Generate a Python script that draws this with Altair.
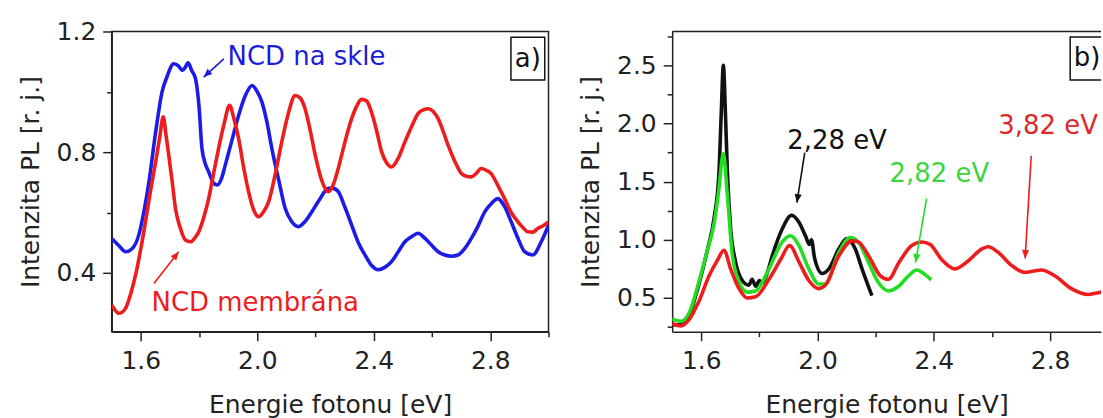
import altair as alt
import pandas as pd

FONT = "DejaVu Sans"
TXT = "#222222"

# ---------------- Panel a data ----------------
a_blue_x = [1.50, 1.525, 1.548, 1.57, 1.593, 1.61, 1.628, 1.65, 1.673, 1.69, 1.713, 1.73, 1.742, 1.752,
            1.762, 1.775, 1.788, 1.80, 1.81, 1.822, 1.833, 1.848, 1.862, 1.876, 1.89, 1.913, 1.936, 1.96,
            1.982, 2.0, 2.016, 2.033, 2.05, 2.073, 2.096, 2.118, 2.141, 2.164, 2.187, 2.215, 2.244, 2.26,
            2.278, 2.30, 2.324, 2.347, 2.37, 2.392, 2.415, 2.438, 2.461, 2.484, 2.507, 2.53, 2.552, 2.575,
            2.598, 2.621, 2.644, 2.667, 2.689, 2.712, 2.735, 2.758, 2.781, 2.804, 2.826, 2.849, 2.872,
            2.895, 2.918, 2.946, 2.975, 3.0]
a_blue_y = [0.514, 0.49, 0.470, 0.48, 0.525, 0.60, 0.702, 0.86, 1.0, 1.05, 1.093, 1.085, 1.071, 1.08,
            1.096, 1.07, 1.043, 0.95, 0.812, 0.76, 0.735, 0.70, 0.691, 0.71, 0.757, 0.84, 0.922, 0.99,
            1.021, 1.0, 0.966, 0.90, 0.812, 0.71, 0.613, 0.57, 0.553, 0.57, 0.602, 0.645, 0.680, 0.68,
            0.669, 0.62, 0.558, 0.50, 0.459, 0.425, 0.410, 0.418, 0.437, 0.47, 0.503, 0.52, 0.531, 0.515,
            0.492, 0.47, 0.459, 0.455, 0.459, 0.48, 0.514, 0.555, 0.602, 0.63, 0.646, 0.62, 0.569,
            0.515, 0.470, 0.459, 0.503, 0.558]

a_red_x = [1.50, 1.525, 1.548, 1.565, 1.582, 1.60, 1.616, 1.633, 1.651, 1.665, 1.677, 1.686, 1.696, 1.708,
           1.719, 1.735, 1.753, 1.771, 1.785, 1.799, 1.815, 1.833, 1.85, 1.867, 1.885, 1.905, 1.92, 1.936,
           1.953, 1.97, 1.987, 2.004, 2.02, 2.039, 2.06, 2.084, 2.107, 2.13, 2.147, 2.164, 2.18, 2.199,
           2.22, 2.244, 2.26, 2.278, 2.30, 2.324, 2.34, 2.358, 2.375, 2.392, 2.41, 2.427, 2.444, 2.461,
           2.484, 2.507, 2.53, 2.552, 2.57, 2.587, 2.604, 2.621, 2.638, 2.655, 2.678, 2.701, 2.718, 2.735,
           2.752, 2.769, 2.786, 2.803, 2.826, 2.849, 2.872, 2.895, 2.912, 2.929, 2.946, 2.963, 2.98, 3.0]
a_red_y = [0.294, 0.266, 0.283, 0.33, 0.393, 0.48, 0.569, 0.67, 0.768, 0.85, 0.917, 0.86, 0.790, 0.70,
           0.613, 0.55, 0.509, 0.503, 0.515, 0.536, 0.58, 0.646, 0.73, 0.812, 0.89, 0.955, 0.91, 0.845,
           0.75, 0.669, 0.61, 0.586, 0.60, 0.636, 0.72, 0.834, 0.93, 0.988, 0.98, 0.944, 0.88, 0.790,
           0.71, 0.669, 0.69, 0.746, 0.83, 0.911, 0.95, 0.975, 0.97, 0.933, 0.87, 0.801, 0.765, 0.751,
           0.78, 0.834, 0.885, 0.928, 0.94, 0.944, 0.935, 0.911, 0.87, 0.823, 0.77, 0.729, 0.72, 0.718,
           0.73, 0.746, 0.74, 0.729, 0.69, 0.646, 0.60, 0.569, 0.55, 0.536, 0.535, 0.547, 0.555, 0.569]

# ---------------- Panel b data ----------------
b_black_x = [1.50, 1.53, 1.56, 1.59, 1.62, 1.645, 1.661, 1.669, 1.676, 1.683, 1.690, 1.701, 1.718, 1.741,
             1.764, 1.775, 1.787, 1.80, 1.81, 1.825, 1.844, 1.878, 1.911, 1.936, 1.959, 1.972, 1.979,
             1.99, 2.016, 2.039, 2.073, 2.101, 2.13, 2.153, 2.187]
b_black_y = [0.27, 0.27, 0.36, 0.60, 0.90, 1.20, 1.58, 2.10, 2.50, 2.10, 1.58, 1.10, 0.81, 0.65,
             0.61, 0.66, 0.60, 0.65, 0.63, 0.70, 0.86, 1.09, 1.21, 1.15, 1.03, 0.96, 1.00,
             0.84, 0.71, 0.75, 0.92, 1.01, 0.92, 0.75, 0.52]

b_green_x = [1.50, 1.53, 1.56, 1.59, 1.62, 1.645, 1.66, 1.676, 1.69, 1.707, 1.73, 1.758, 1.787, 1.833,
             1.878, 1.907, 1.936, 1.97, 2.004, 2.027, 2.073, 2.113, 2.141, 2.176, 2.21, 2.244, 2.279,
             2.313, 2.341, 2.37, 2.391]
b_green_y = [0.32, 0.30, 0.38, 0.62, 0.90, 1.15, 1.42, 1.74, 1.38, 0.87, 0.64, 0.55, 0.56, 0.75,
             0.98, 1.035, 0.95, 0.75, 0.62, 0.62, 0.89, 1.02, 0.98, 0.80, 0.63, 0.56, 0.60,
             0.69, 0.74, 0.70, 0.655]

b_red_x = [1.50, 1.53, 1.56, 1.59, 1.627, 1.655, 1.678, 1.701, 1.73, 1.758, 1.787, 1.833, 1.873, 1.904,
           1.936, 1.97, 2.004, 2.027, 2.073, 2.119, 2.141, 2.176, 2.216, 2.244, 2.279, 2.324, 2.359,
           2.387, 2.427, 2.473, 2.519, 2.564, 2.587, 2.622, 2.667, 2.713, 2.74, 2.77, 2.816, 2.873,
           2.931, 2.976, 3.0]
b_red_y = [0.28, 0.26, 0.32, 0.46, 0.69, 0.82, 0.91, 0.75, 0.58, 0.50, 0.51, 0.66, 0.83, 0.95,
           0.81, 0.65, 0.58, 0.61, 0.86, 0.99, 0.98, 0.86, 0.69, 0.66, 0.80, 0.95, 0.98,
           0.96, 0.83, 0.75, 0.82, 0.92, 0.94, 0.89, 0.78, 0.72, 0.73, 0.74, 0.69, 0.58,
           0.53, 0.55, 0.56]

# ---------------- annotations ----------------
a_text = ["NCD na skle", "NCD membrána"]
a_text_x = [2.169, 1.993]
a_text_y = [1.115, 0.299]
a_text_color = ["#1c1cdc", "#ee1c1c"]
a_arrow_x = [1.885, 1.645]
a_arrow_y = [1.109, 0.365]
a_arrow_x2 = [1.816, 1.730]
a_arrow_y2 = [1.049, 0.470]
a_arrow_angle = [227, 38]

b_text = ["2,28 eV", "2,82 eV", "3,82 eV"]
b_text_x = [2.067, 2.419, 2.793]
b_text_y = [1.851, 1.565, 1.979]
b_text_color = ["#111111", "#3ed43e", "#dc2a2a"]
b_arrow_x = [1.956, 2.375, 2.735]
b_arrow_y = [1.748, 1.353, 1.722]
b_arrow_x2 = [1.929, 2.337, 2.714]
b_arrow_y2 = [1.319, 0.804, 0.839]
b_arrow_angle = [189, 190, 183]
b_arrow_color = ["#111111", "#22dd22", "#ee1c1c"]

panel_label = ["a)", "b)"]
box_x = [2.871, 2.869]
box_x2 = [2.987, 2.986]
box_y = [1.181, 2.743]
box_y2 = [1.039, 2.374]
lab_x = [2.929, 2.927]
lab_y = [1.110, 2.558]

a_xdom = [1.5, 3.0]
a_ydom = [0.205, 1.2]
b_xdom = [1.5, 2.975]
b_ydom = [0.21, 2.79]

x_ticks = [1.6, 1.8, 2.0, 2.2, 2.4, 2.6, 2.8, 3.0]
a_y_ticks = [0.4, 0.6, 0.8, 1.0, 1.2]
b_y_ticks = [0.25, 0.5, 0.75, 1.0, 1.25, 1.5, 1.75, 2.0, 2.25, 2.5, 2.75]

X_MINOR = "round(datum.value*10) % 4 != 0"
AY_MINOR = "round(datum.value*10) % 4 != 0"
BY_MINOR = "round(datum.value*100) % 50 != 0"


def make_axis(values, minor, title, lpad, tpad):
    return alt.Axis(
        values=values, format=".1f", title=title, grid=False,
        labelExpr=f"({minor}) ? '' : datum.label",
        tickSize={"condition": {"test": minor, "value": 5}, "value": 9},
        labelPadding=lpad, titlePadding=tpad, labelFlush=False, labelOverlap=False,
    )


def enc_x(field, dom, values):
    return alt.X(field, type="quantitative", scale=alt.Scale(domain=dom, nice=False, zero=False),
                 axis=make_axis(values, X_MINOR, "Energie fotonu [eV]", 8, 19))


def enc_y(field, dom, values, minor):
    return alt.Y(field, type="quantitative", scale=alt.Scale(domain=dom, nice=False, zero=False),
                 axis=make_axis(values, minor, "Intenzita PL [r. j.]", 7, 13))


def line(xs, ys, color, xdom, ydom, yticks, yminor):
    df = pd.DataFrame({"x": xs, "y": ys})
    return alt.Chart(df).mark_line(color=color, strokeWidth=3.6, interpolate="monotone", clip=True).encode(
        x=enc_x("x", xdom, x_ticks), y=enc_y("y", ydom, yticks, yminor))


def annotations(texts, tx, ty, tcol, ax, ay, ax2, ay2, aang, acol, xdom, ydom, yticks, yminor):
    tdf = pd.DataFrame({"t": texts, "x": tx, "y": ty, "c": tcol})
    adf = pd.DataFrame({"x": ax, "y": ay, "x2": ax2, "y2": ay2, "a": aang, "c": acol})
    X = enc_x("x", xdom, x_ticks)
    Y = enc_y("y", ydom, yticks, yminor)
    text = alt.Chart(tdf).mark_text(font=FONT, fontSize=26, align="center", baseline="middle").encode(
        x=X, y=Y, text="t:N", color=alt.Color("c:N", scale=None))
    rule = alt.Chart(adf).mark_rule(strokeWidth=1.6).encode(
        x=X, y=Y, x2="x2:Q", y2="y2:Q", color=alt.Color("c:N", scale=None))
    head = alt.Chart(adf).mark_point(shape="M0,0L-0.55,1.3L0.55,1.3Z", filled=True, size=170, opacity=1).encode(
        x=enc_x("x2", xdom, x_ticks), y=enc_y("y2", ydom, yticks, yminor),
        angle=alt.Angle("a:Q", scale=None), color=alt.Color("c:N", scale=None))
    return [rule, head, text]


def label_box(i, xdom, ydom, yticks, yminor):
    df = pd.DataFrame({"x": [box_x[i]], "x2": [box_x2[i]], "y": [box_y[i]], "y2": [box_y2[i]],
                       "lx": [lab_x[i]], "ly": [lab_y[i]], "t": [panel_label[i]]})
    rect = alt.Chart(df).mark_rect(fill="white", stroke="#111111", strokeWidth=1.5, clip=True).encode(
        x=enc_x("x", xdom, x_ticks), x2="x2:Q", y=enc_y("y", ydom, yticks, yminor), y2="y2:Q")
    txt = alt.Chart(df).mark_text(font=FONT, fontSize=26, color="#111111", align="center",
                                  baseline="middle", clip=True).encode(
        x=enc_x("lx", xdom, x_ticks), y=enc_y("ly", ydom, yticks, yminor), text="t:N")
    return [rect, txt]


panel_a = alt.layer(
    line(a_blue_x, a_blue_y, "#1c1ce6", a_xdom, a_ydom, a_y_ticks, AY_MINOR),
    line(a_red_x, a_red_y, "#ee1c1c", a_xdom, a_ydom, a_y_ticks, AY_MINOR),
    *annotations(a_text, a_text_x, a_text_y, a_text_color, a_arrow_x, a_arrow_y, a_arrow_x2,
                 a_arrow_y2, a_arrow_angle, a_text_color, a_xdom, a_ydom, a_y_ticks, AY_MINOR),
    *label_box(0, a_xdom, a_ydom, a_y_ticks, AY_MINOR),
).properties(width=438, height=301, view=alt.ViewBackground(stroke="#222222", strokeWidth=1.5))

top_border = alt.Chart(pd.DataFrame({"y": [b_ydom[1]]})).mark_rule(color="#222222", strokeWidth=1.5).encode(
    y=enc_y("y", b_ydom, b_y_ticks, BY_MINOR))

panel_b = alt.layer(
    line(b_black_x, b_black_y, "#111111", b_xdom, b_ydom, b_y_ticks, BY_MINOR),
    line(b_green_x, b_green_y, "#22dd22", b_xdom, b_ydom, b_y_ticks, BY_MINOR),
    line(b_red_x, b_red_y, "#ee1c1c", b_xdom, b_ydom, b_y_ticks, BY_MINOR),
    *annotations(b_text, b_text_x, b_text_y, b_text_color, b_arrow_x, b_arrow_y, b_arrow_x2,
                 b_arrow_y2, b_arrow_angle, b_arrow_color, b_xdom, b_ydom, b_y_ticks, BY_MINOR),
    *label_box(1, b_xdom, b_ydom, b_y_ticks, BY_MINOR),
    top_border,
).properties(width=430, height=301, view=alt.ViewBackground(stroke="transparent"))

chart = alt.hconcat(panel_a, panel_b, spacing=27).properties(
    padding={"left": 17, "top": 18, "right": 0, "bottom": 0},
    background="white",
).configure_axis(
    labelFont=FONT, labelFontSize=25, labelColor=TXT,
    titleFont=FONT, titleFontSize=25, titleFontWeight="normal", titleColor=TXT,
    domainColor=TXT, domainWidth=1.5, tickColor=TXT, tickWidth=1.5,
)

chart.save("out.html", embed_options={"renderer": "svg", "actions": False})
